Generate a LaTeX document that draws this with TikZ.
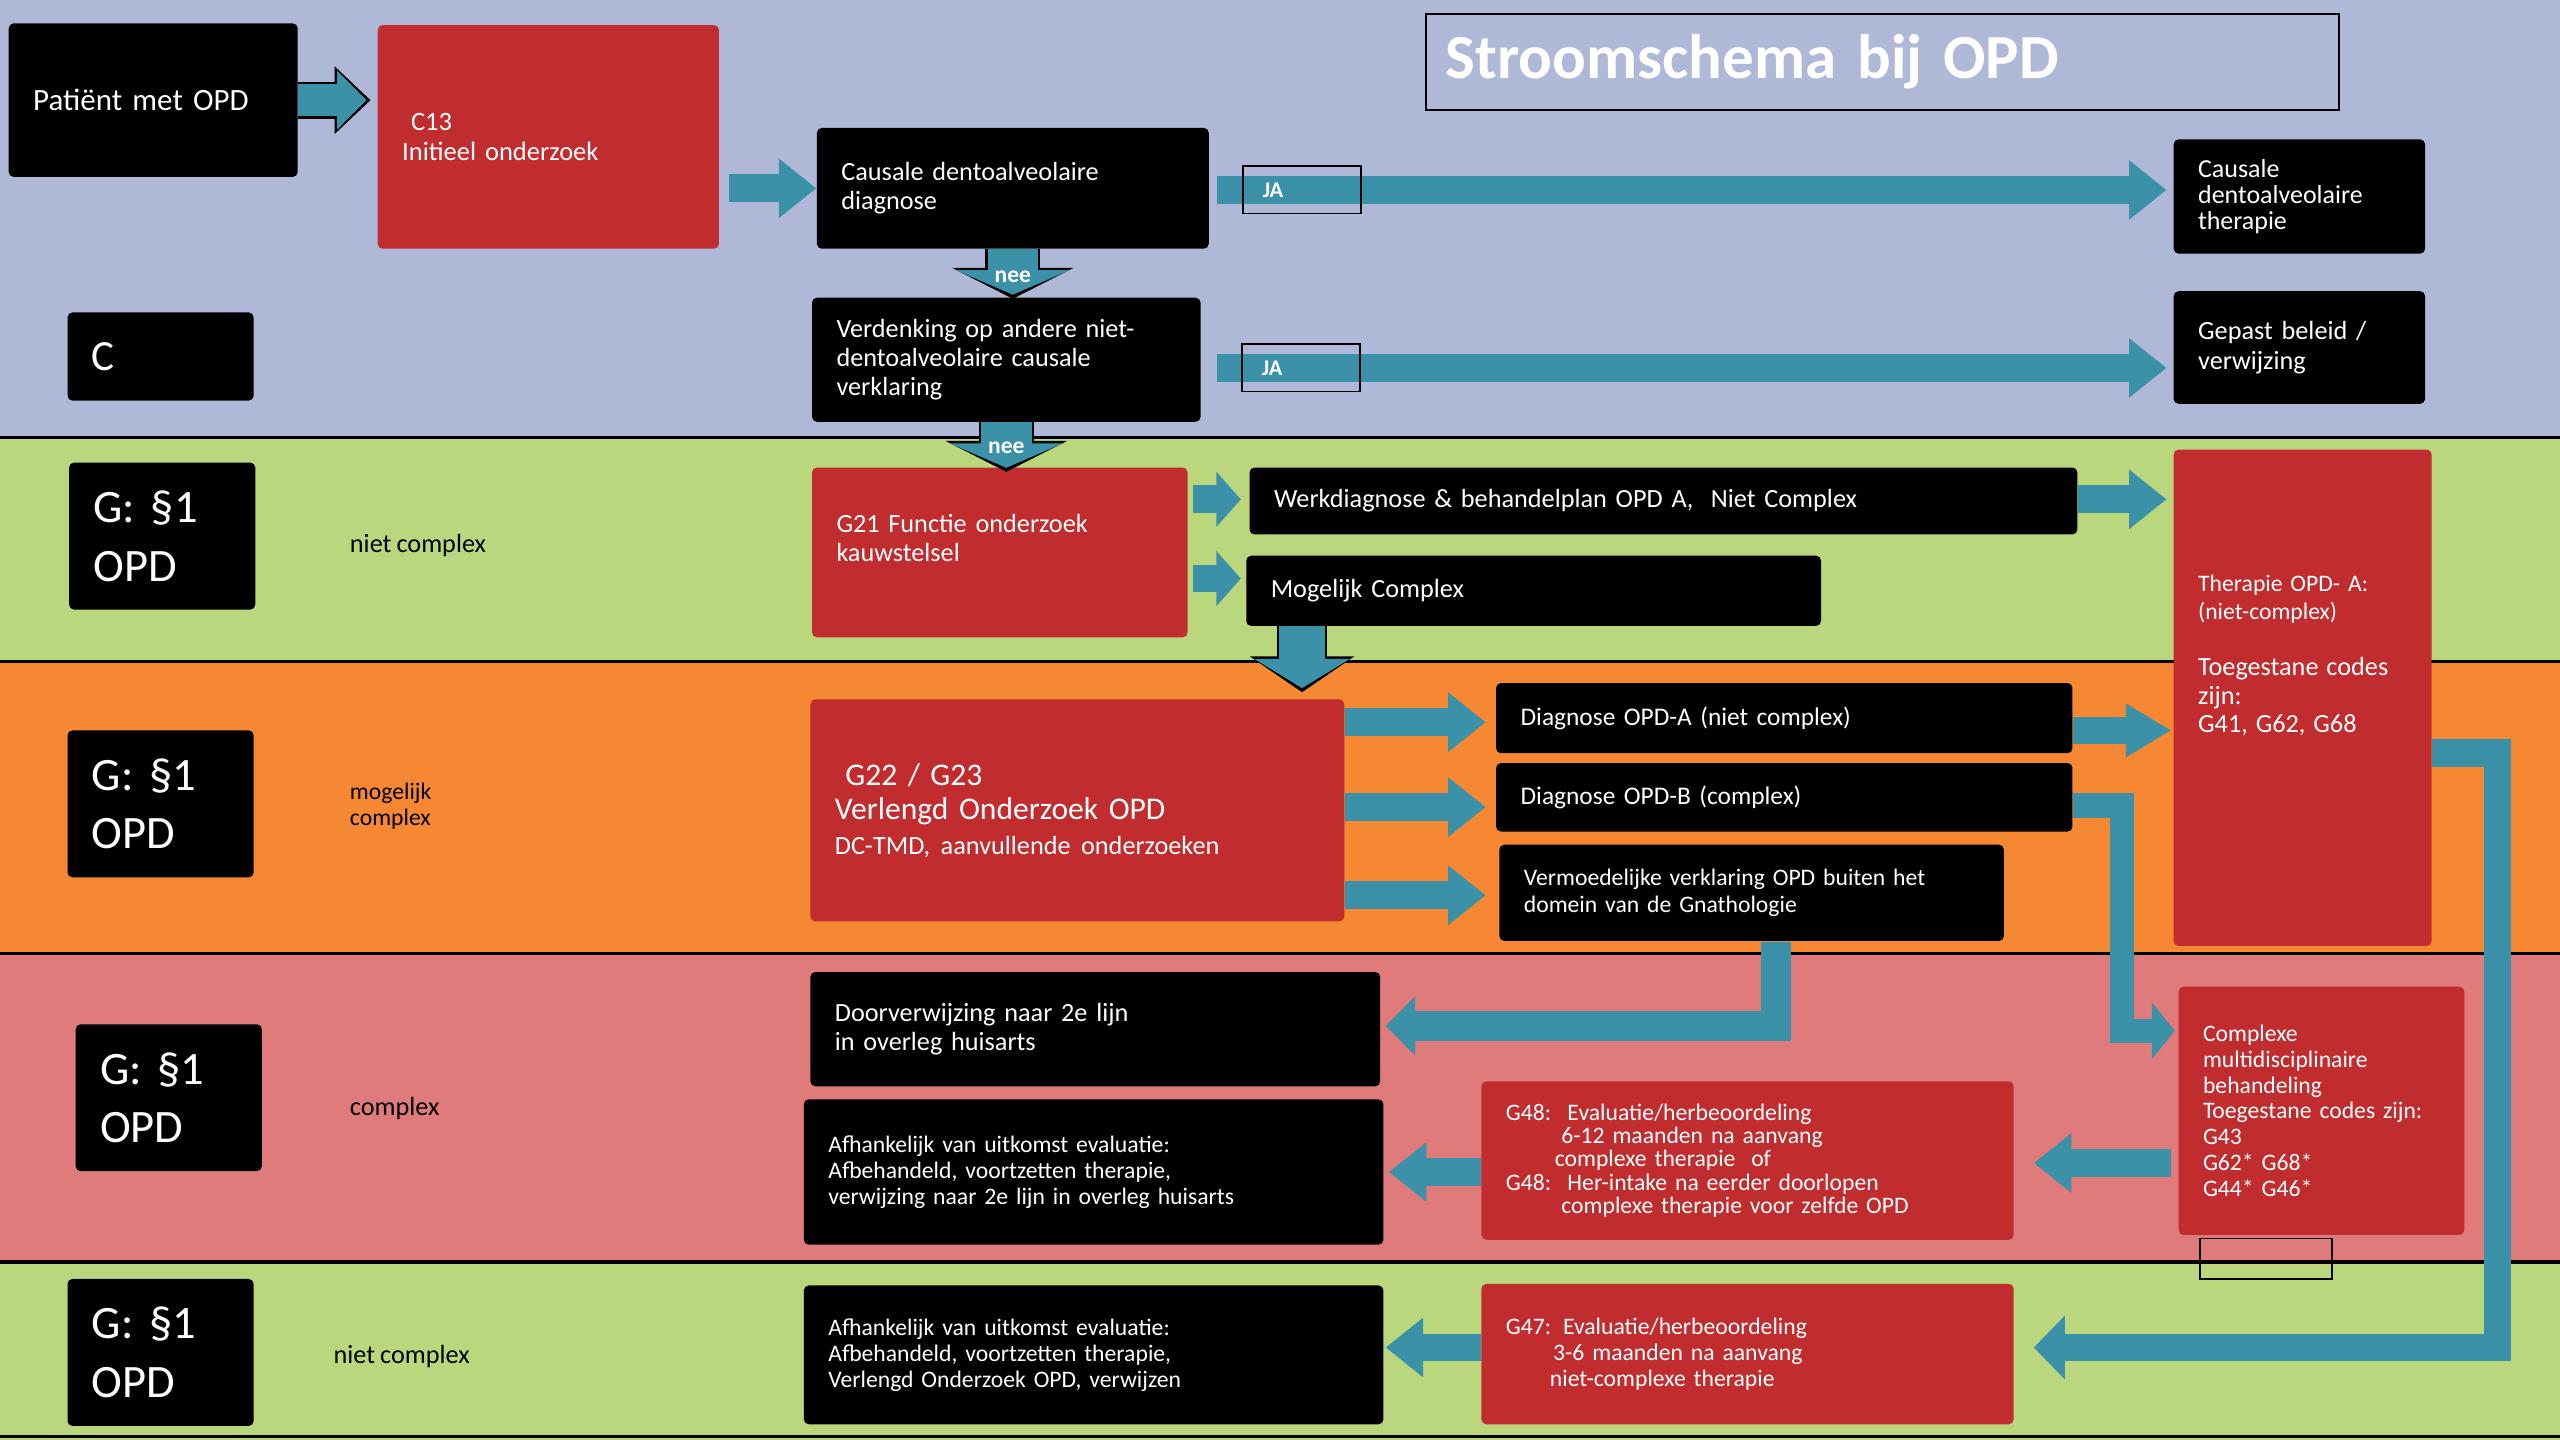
\documentclass[tikz,border=0pt]{standalone}
\usepackage{fontspec}
\setmainfont{Carlito}[WordSpace=0.85]
\usepackage{tikz}
\usetikzlibrary{positioning, arrows.meta, calc}

\definecolor{bandblue}{RGB}{175,185,215}
\definecolor{bandgreen}{RGB}{186,215,126}
\definecolor{bandorange}{RGB}{246,135,51}
\definecolor{bandpink}{RGB}{224,123,123}
\definecolor{boxred}{RGB}{193,44,47}
\definecolor{arrowteal}{RGB}{58,145,168}

\def\fnormal{\fontsize{9.15}{10.2}\selectfont}
\def\fsmall{\fontsize{8.25}{9.1}\selectfont}
\def\fbig{\fontsize{16.2}{20.4}\selectfont}

\tikzset{
    boxat/.style 2 args={anchor=north west, minimum width=#1*0.02cm, minimum height=#2*0.02cm,
        text width=#1*0.02cm-0.6cm, inner xsep=0.3cm, inner ysep=0pt, align=left, rounded corners=0.06cm},
    blackbox/.style={fill=black, text=white, font=\fnormal},
    redbox/.style={fill=boxred, text=white, font=\fnormal},
    lanetext/.style={anchor=west, align=left, text=black, font=\fnormal, inner sep=0pt},
    bigarrow/.style n args={3}{line width=#1, -{Triangle[length=#2, width=#3]}},
    flow/.style={draw=arrowteal, bigarrow={0.34cm}{0.46cm}{0.7cm}},
    jabox/.style={draw=black, line width=0.6pt, minimum width=1.44cm, minimum height=0.58cm,
        text width=0.96cm, inner xsep=0.24cm, align=left, text=white,
        font=\bfseries\fontsize{7.8}{8}\selectfont},
    neelabel/.style={text=white, font=\bfseries\fontsize{8.2}{9}\selectfont, inner sep=0pt},
}

\def\lanes{%
    % background bands
    \foreach \ya/\yb/\co in {0/268/bandblue, 268/405/bandgreen, 405/584/bandorange, 584/773/bandpink, 773/882/bandgreen}
    {
        \fill[\co] (0,\ya) rectangle (1568,\yb);
    }

    % band borders
    \foreach \y in {268,405,584,773,880}
    {
        \draw[black, line width=1.1pt] (0,\y) -- (1568,\y);
    }
}

\begin{document}
\begin{tikzpicture}[x=0.02cm, y=-0.02cm]
    \useasboundingbox (0,0) rectangle (1568,882);
    \lanes

    % title
    \node[draw=black, line width=0.7pt, anchor=north west, minimum width=11.18cm, minimum height=1.18cm,
        text width=10.7cm, inner xsep=0.24cm, align=left, text=white,
        font=\bfseries\fontsize{21.9}{24}\selectfont] (title) at (873,8) {Stroomschema bij OPD};

    % lane headers
    \node[blackbox, boxat={114}{54}, font=\fontsize{15}{18}\selectfont] (cbox) at (41,191) {C};
    \foreach \name/\x/\y in {ga/42/283, gb/41/447, gc/46/627, gd/41/783}
    {
        \node[blackbox, boxat={114}{90}, font=\fbig] (\name) at (\x,\y) {G: §1\\OPD};
    }
    \node[lanetext] (lanea) at (214,334) {niet complex};
    \node[lanetext, font=\fsmall] (laneb) at (214,494) {mogelijk\\complex};
    \node[lanetext] (lanec) at (214,679) {complex};
    \node[lanetext] (laned) at (204,831) {niet complex};

    % top band
    \node[blackbox, boxat={177}{94}, font=\fontsize{10.8}{13}\selectfont] (patient) at (5,14) {Patiënt met OPD};
    \node[redbox, boxat={209}{137}, font=\fontsize{9.25}{10.2}\selectfont] (c13) at (231,15) {\ C13\\Initieel onderzoek};
    \node[blackbox, boxat={240}{74}] (causdiag) at (500,78) {Causale dentoalveolaire\\diagnose};
    \node[blackbox, boxat={238}{76}] (verdenking) at (497,182) {Verdenking op andere niet-\\dentoalveolaire causale\\verklaring};
    \node[blackbox, boxat={154}{70}, font=\fontsize{9.05}{9.1}\selectfont] (caustherapie) at (1331,85) {Causale\\dentoalveolaire\\therapie};
    \node[blackbox, boxat={154}{69}] (gepast) at (1331,178) {Gepast beleid /\\verwijzing};

    % niet complex band
    \node[redbox, boxat={230}{104}] (g21) at (497,286) {G21 Functie onderzoek\\kauwstelsel\\\rule{0pt}{0.3cm}};
    \node[blackbox, boxat={507}{41}] (werk) at (765,286) {Werkdiagnose \& behandelplan OPD A,~ Niet Complex};
    \node[blackbox, boxat={352}{43}] (mog) at (763,340) {Mogelijk Complex};
    \node[redbox, boxat={158}{304}, font=\fontsize{8.25}{9.7}\selectfont] (therapiea) at (1331,275)
        {Therapie OPD- A:\\(niet-complex)\\[9.9pt]\fontsize{9.15}{9.9}\selectfont Toegestane codes\\zijn:\\G41, G62, G68\\\rule{0pt}{1cm}};

    % mogelijk complex band
    \node[redbox, boxat={327}{136}, font=\fontsize{11}{12}\selectfont] (g22) at (496,428)
        {\ G22 / G23\\Verlengd Onderzoek OPD\\\fnormal DC-TMD, aanvullende onderzoeken};
    \node[blackbox, boxat={353}{43}, font=\fontsize{8.85}{10}\selectfont] (opda) at (916,418) {Diagnose OPD-A (niet complex)};
    \node[blackbox, boxat={353}{42}, font=\fontsize{8.85}{10}\selectfont] (opdb) at (916,467) {Diagnose OPD-B (complex)};
    \node[blackbox, boxat={309}{59}, font=\fsmall] (verm) at (918,517) {Vermoedelijke verklaring OPD buiten het\\domein van de Gnathologie};

    % complex band
    \node[blackbox, boxat={349}{70}] (door) at (496,595) {Doorverwijzing naar 2e lijn\\in overleg huisarts};
    \node[blackbox, boxat={355}{89}, font=\fsmall] (afha) at (492,673)
        {Afhankelijk van uitkomst evaluatie:\\Afbehandeld, voortzetten therapie,\\verwijzing naar 2e lijn in overleg huisarts};
    \node[redbox, boxat={326}{97}, font=\fontsize{8.25}{8.1}\selectfont] (g48) at (907,662)
        {G48:\hspace{0.2cm}Evaluatie/herbeoordeling\\\hspace*{0.68cm}6-12 maanden na aanvang\\\hspace*{0.6cm}complexe therapie~ of\\G48:\hspace{0.2cm}Her-intake na eerder doorlopen\\\hspace*{0.68cm}complexe therapie voor zelfde OPD};
    \node[redbox, boxat={175}{152}, font=\fontsize{8.25}{9}\selectfont] (cmplx) at (1334,604)
        {Complexe\\multidisciplinaire\\behandeling\\Toegestane codes zijn:\\G43\\G62* G68*\\G44* G46*};
    \node[draw=black, line width=0.6pt, anchor=north west, minimum width=1.62cm, minimum height=0.5cm, inner sep=0pt] (spare) at (1347,758) {};

    % niet complex band, onder
    \node[blackbox, boxat={355}{85}, font=\fsmall] (afhb) at (492,787)
        {Afhankelijk van uitkomst evaluatie:\\Afbehandeld, voortzetten therapie,\\Verlengd Onderzoek OPD, verwijzen};
    \node[redbox, boxat={326}{86}, font=\fontsize{8.25}{9.1}\selectfont] (g47) at (907,786)
        {G47: Evaluatie/herbeoordeling\\\hspace*{0.58cm}3-6 maanden na aanvang\\\hspace*{0.54cm}niet-complexe therapie};

    % outlined arrows
    \draw[black, bigarrow={0.45cm}{0.44cm}{0.80cm}] (patient.east) -- ($(patient.east -| c13.west)+(-4,0)$);
    \draw[arrowteal, bigarrow={0.40cm}{0.36cm}{0.70cm}, shorten >=0.05cm] (patient.east) -- ($(patient.east -| c13.west)+(-4,0)$);
    \draw[black, bigarrow={0.67cm}{0.38cm}{1.48cm}] (causdiag.south) -- ($(causdiag.south |- verdenking.north)+(0,1)$);
    \draw[arrowteal, bigarrow={0.62cm}{0.30cm}{1.38cm}, shorten >=0.05cm] (causdiag.south) -- ($(causdiag.south |- verdenking.north)+(0,1)$)
        node[neelabel, pos=0.55] (neea) {nee};
    \draw[black, bigarrow={0.67cm}{0.38cm}{1.48cm}] (verdenking.south) -- ($(verdenking.south |- g21.north)+(0,3)$);
    \draw[arrowteal, bigarrow={0.62cm}{0.30cm}{1.38cm}, shorten >=0.05cm] (verdenking.south) -- ($(verdenking.south |- g21.north)+(0,3)$)
        node[neelabel, pos=0.52] (neeb) {nee};
    \draw[black, bigarrow={0.61cm}{0.44cm}{1.26cm}] ($(mog.south west)+(34.5,0)$) -- ($(mog.south west |- g22.north)+(34.5,-4)$);
    \draw[arrowteal, bigarrow={0.56cm}{0.36cm}{1.16cm}, shorten >=0.05cm] ($(mog.south west)+(34.5,0)$) -- ($(mog.south west |- g22.north)+(34.5,-4)$);

    % straight arrows
    \draw[flow] ($(c13.east |- causdiag.west)+(6,0)$) -- (causdiag.west);
    \draw[flow] ($(causdiag.east)+(5,1)$) -- ($(caustherapie.west |- causdiag.east)+(-4,1)$)
        node[jabox, pos=0.089] (jaa) {JA};
    \draw[flow] ($(verdenking.east)+(10,5)$) -- ($(gepast.west |- verdenking.east)+(-4,5)$)
        node[jabox, pos=0.088] (jab) {JA};
    \draw[flow, -{Triangle[length=0.3cm, width=0.66cm]}] ($(g21.east |- werk.west)+(3,-1)$) -- ($(werk.west)+(-5,-1)$);
    \draw[flow, -{Triangle[length=0.3cm, width=0.66cm]}] ($(g21.east)+(3,16)$) -- ($(mog.west |- g21.east)+(-3,16)$);
    \draw[flow] ($(werk.east)+(0,-1)$) -- ($(therapiea.west |- werk.east)+(-4,-1)$);
    \draw[flow] ($(g22.east |- opda.west)+(0,2.5)$) -- ($(opda.west)+(-6,2.5)$);
    \draw[flow] ($(g22.east |- opdb.west)+(0,6)$) -- ($(opdb.west)+(-6,6)$);
    \draw[flow] ($(g22.east |- verm.west)+(0,1.5)$) -- ($(verm.west)+(-8,1.5)$);
    \draw[flow, -{Triangle[length=0.56cm, width=0.62cm]}] ($(opda.east)+(0,7.5)$) -- ($(therapiea.west |- opda.east)+(-1,7.5)$);
    \draw[flow] ($(cmplx.west)+(-4,32)$) -- ($(g48.east |- cmplx.west)+(12,32)$);
    \draw[flow] ($(g48.west)+(0,7)$) -- ($(afha.east |- g48.west)+(3,7)$);
    \draw[flow] ($(g47.west)+(0,-4)$) -- ($(afhb.east |- g47.west)+(1,-4)$);

    % bent arrows
    \draw[draw=arrowteal, bigarrow={0.3cm}{0.28cm}{0.68cm}] ($(opdb.east)+(0,5)$) -- ++(30,0) |- ($(cmplx.west)+(-2,-49)$);
    \draw[draw=arrowteal, bigarrow={0.34cm}{0.38cm}{0.76cm}] ($(therapiea.east)+(0,34)$) -- ++(40,0) |- ($(g47.east)+(12,-4)$);
    \draw[draw=arrowteal, bigarrow={0.36cm}{0.36cm}{0.70cm}] ($(verm.south)+(15,0)$) |- ($(door.east)+(3,-2)$);
\end{tikzpicture}
\end{document}
